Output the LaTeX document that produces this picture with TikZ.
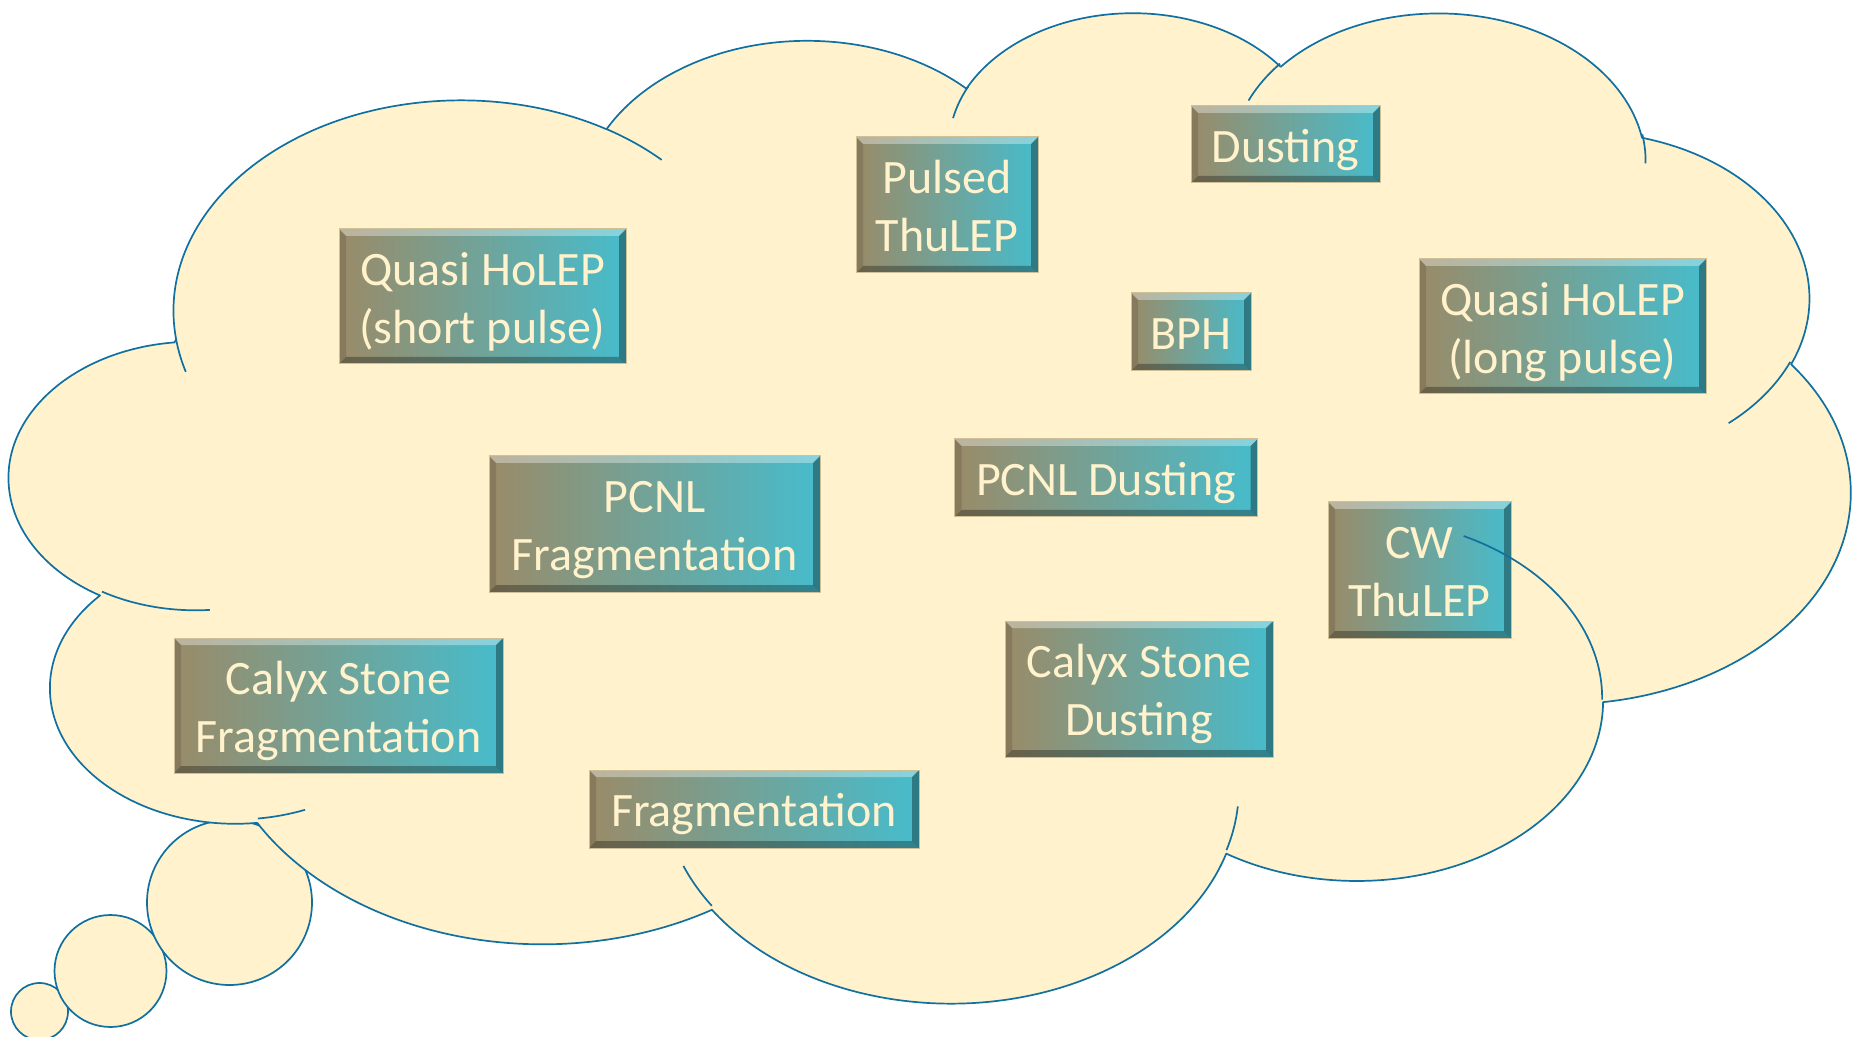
\documentclass[tikz,border=0pt]{standalone}
\usepackage{fontspec}
\setmainfont{Carlito}
\usepackage{tikz}
\definecolor{cloudfill}{HTML}{FFF2CC}
\definecolor{cloudline}{HTML}{1070A0}
\definecolor{boxleft}{RGB}{154,139,104}
\definecolor{boxright}{RGB}{70,188,204}
\definecolor{boxrim}{RGB}{205,192,150}
\newcommand\bv{3.5pt}
\newcommand\bt[1]{\raisebox{-3pt}[\height][\depth]{\begin{tabular}{@{}c@{}}#1\end{tabular}}}
\tikzset{
  cloud/.style={draw=cloudline, fill=cloudfill, line width=0.85pt},
  cloudarc/.style={draw=cloudline, line width=0.85pt},
  stone/.style={draw=boxrim, line width=0.5pt, left color=boxleft, right color=boxright,
    text=cloudfill, inner sep=0pt, font=\fontsize{24}{29}\selectfont,
    path picture={
      \fill[white,opacity=.35] (path picture bounding box.north west) -- (path picture bounding box.north east)
        -- ([shift={(-\bv,-\bv)}]path picture bounding box.north east) -- ([shift={(\bv,-\bv)}]path picture bounding box.north west) -- cycle;
      \fill[black,opacity=.3] (path picture bounding box.south west) -- (path picture bounding box.south east)
        -- ([shift={(-\bv,\bv)}]path picture bounding box.south east) -- ([shift={(\bv,\bv)}]path picture bounding box.south west) -- cycle;
      \fill[black,opacity=.12] (path picture bounding box.north west) -- (path picture bounding box.south west)
        -- ([shift={(\bv,\bv)}]path picture bounding box.south west) -- ([shift={(\bv,-\bv)}]path picture bounding box.north west) -- cycle;
      \fill[black,opacity=.35] (path picture bounding box.north east) -- (path picture bounding box.south east)
        -- ([shift={(-\bv,\bv)}]path picture bounding box.south east) -- ([shift={(-\bv,-\bv)}]path picture bounding box.north east) -- cycle;
    }},
}

\begin{document}
\begin{tikzpicture}[x=0.5pt, y=-0.5pt, line join=round,
  declare function={vang(\ang,\ra,\rb)=atan2(\ra*sin(\ang),\rb*cos(\ang));}]

  % cloud units are thousandths of the shape frame (43.2 x 43.2)
  \newcommand\CldX{42.5926};
  \newcommand\CldY{22.9167};

  \useasboundingbox (0,0) rectangle (1853,1037);

  %% thought bubbles
  \draw[cloud] (39.5,1011.5) circle[radius=14.25pt];
  \draw[cloud] (110.5,971) circle[radius=28pt];
  \draw[cloud] (229.5,902.5) circle[radius=41.25pt];

  %% cloud outline
  \draw[cloud] ({10+3.900*\CldX},{10+14.370*\CldY})
    \foreach \wr/\hr/\st/\sw in {6.753/9.190/-190.4875/123.7805, 5.333/7.267/-144.1024/89.9452,
      4.365/5.945/-145.8079/99.7230, 4.857/6.595/-130.9861/117.2417, 5.333/7.273/-78.7089/109.0269,
      6.775/9.220/-46.2673/130.2690, 5.785/7.867/0.6250/114.0333, 6.752/9.215/22.4516/115.1726,
      7.720/10.543/66.2426/75.7110, 4.360/5.918/-274.9421/146.7356, 4.345/5.945/-246.8285/152.5189}
    { arc[start angle={-vang(\st,\wr,\hr)},
          delta angle={-mod(vang(\st+\sw,\wr,\hr)-vang(\st,\wr,\hr)+720,360)},
          x radius={\wr*\CldX*0.5pt}, y radius={\hr*\CldY*0.5pt}] } -- cycle;

  \node[stone, minimum width=143.5pt, minimum height=67.5pt] (qshort) at (482.5,296.5) {\bt{Quasi HoLEP\\(short pulse)}};
  \node[stone, minimum width=91pt, minimum height=68pt] (pthulep) at (947,205) {\bt{Pulsed\\ThuLEP}};
  \node[stone, minimum width=94.5pt, minimum height=38.5pt] (dust) at (1285.5,144.5) {\bt{Dusting}};
  \node[stone, minimum width=60pt, minimum height=39pt] (bph) at (1191,332) {\bt{BPH}};
  \node[stone, minimum width=143.5pt, minimum height=67.5pt] (qlong) at (1562.5,326.5) {\bt{Quasi HoLEP\\(long pulse)}};
  \node[stone, minimum width=165.5pt, minimum height=68pt] (pcnlfrag) at (654.5,524) {\bt{PCNL\\Fragmentation}};
  \node[stone, minimum width=151.5pt, minimum height=39pt] (pcnldust) at (1106,478) {\bt{PCNL Dusting}};
  \node[stone, minimum width=91.5pt, minimum height=68pt] (cwthulep) at (1419.5,570) {\bt{CW\\ThuLEP}};
  \node[stone, minimum width=164.5pt, minimum height=67.5pt] (calyxfrag) at (338.5,705.5) {\bt{Calyx Stone\\Fragmentation}};
  \node[stone, minimum width=134pt, minimum height=68pt] (calyxdust) at (1139,689) {\bt{Calyx Stone\\Dusting}};
  \node[stone, minimum width=165pt, minimum height=39pt] (frag) at (754,809) {\bt{Fragmentation}};

  %% inner arcs of the cloud
  \foreach \mx/\my/\wr/\hr/\st/\sw in {4.693/26.177/4.345/5.945/86.7420/26.4295, 6.928/34.899/4.360/5.918/73.6105/11.4475,
      16.478/39.090/6.752/9.215/137.6242/14.0811, 28.827/34.751/6.752/9.215/6.4533/15.9984,
      34.129/22.954/5.785/7.867/-70.2924/70.9174, 41.798/15.354/5.333/7.273/30.3180/27.7515,
      38.324/5.426/4.857/6.595/-13.7443/14.8589, 29.078/3.952/4.857/6.595/-149.1815/18.1954,
      22.141/4.720/4.365/5.945/-163.4943/17.6864, 14.000/5.192/6.753/9.190/-66.7070/12.3194,
      4.127/15.789/6.753/9.190/157.6544/11.8582}
    \draw[cloudarc] ({10+\mx*\CldX},{10+\my*\CldY})
      arc[start angle={-vang(\st,\wr,\hr)},
          delta angle={-mod(vang(\st+\sw,\wr,\hr)-vang(\st,\wr,\hr)+720,360)},
          x radius={\wr*\CldX*0.5pt}, y radius={\hr*\CldY*0.5pt}];

\end{tikzpicture}
\end{document}
